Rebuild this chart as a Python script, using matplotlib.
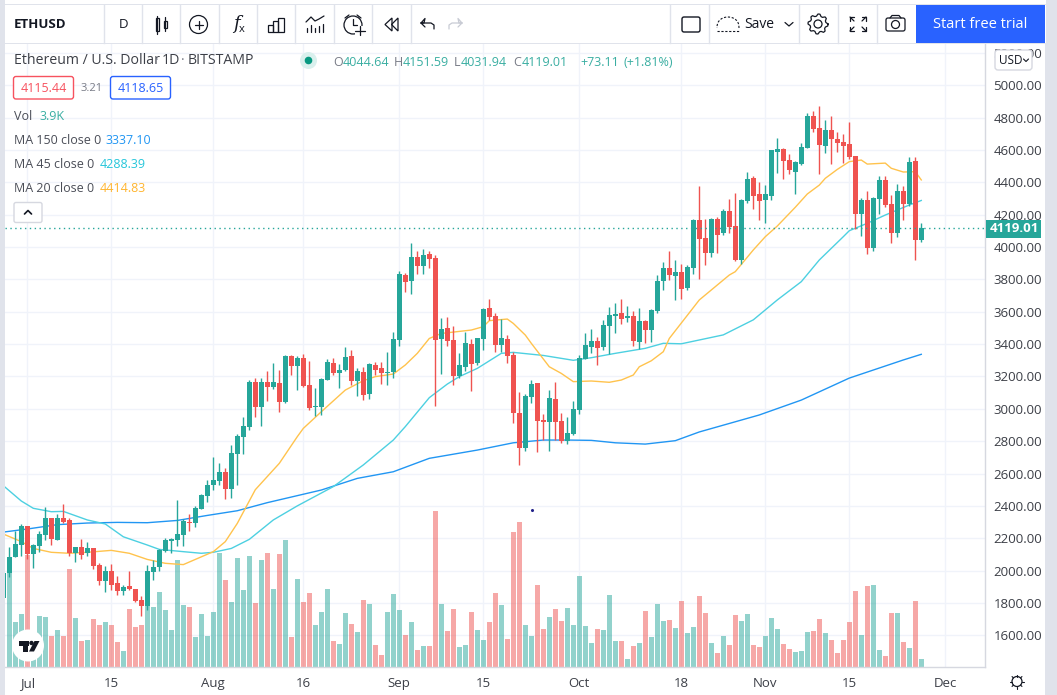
# -*- coding: utf-8 -*-
"""
ETHUSD daily candles, volume and moving averages (TradingView layout)
"""

import matplotlib
matplotlib.use('Agg')
import numpy as np
import matplotlib.pyplot as plt
from matplotlib.patches import Rectangle, Circle, Polygon, FancyBboxPatch

plt.rcParams['font.family'] = ['Open Sans', 'DejaVu Sans']

# day number, 0 is 1 July
first_day = -4

opens = [1828, 1983, 2082, 2160, 2275, 2102, 2152, 2220, 2325, 2189, 2325, 2313, 2109, 2146, 2109, 2140,
         2034, 1936, 1997, 1923, 1874, 1905, 1886, 1818, 1781, 1991, 2022, 2121, 2183, 2189, 2220, 2300,
         2294, 2381, 2461, 2529, 2554, 2609, 2504, 2721, 2826, 2888, 3166, 3011, 3166, 3135, 3160, 3042,
         3326, 3265, 3314, 3147, 3011, 3011, 3178, 3283, 3221, 3240, 3326, 3172, 3228, 3092, 3271, 3252,
         3221, 3228, 3425, 3827, 3790, 3939, 3883, 3957, 3932, 3432, 3500, 3425, 3203, 3259, 3401, 3283,
         3432, 3623, 3574, 3395, 3432, 3333, 2974, 2758, 3073, 3160, 2931, 2918, 3061, 2925, 2801, 2844,
         2993, 3308, 3382, 3419, 3382, 3512, 3574, 3592, 3561, 3574, 3413, 3543, 3487, 3605, 3790, 3870,
         3821, 3846, 3747, 3870, 4167, 4056, 3963, 4173, 4087, 4223, 4130, 3920, 4285, 4427, 4328, 4291,
         4316, 4588, 4606, 4538, 4464, 4513, 4612, 4810, 4736, 4625, 4724, 4668, 4649, 4637, 4563, 4204,
         4291, 3994, 4297, 4414, 4266, 4087, 4346, 4266, 4532, 4044.64]
highs = [1983, 2144, 2247, 2288, 2275, 2164, 2247, 2391, 2325, 2350, 2411, 2325, 2146, 2195, 2177, 2140,
         2047, 2028, 2041, 1966, 1911, 1997, 1886, 1843, 2034, 2065, 2133, 2201, 2201, 2436, 2319, 2350,
         2399, 2473, 2560, 2702, 2665, 2634, 2776, 2844, 2949, 3178, 3190, 3190, 3234, 3283, 3240, 3333,
         3333, 3326, 3339, 3296, 3129, 3190, 3308, 3314, 3277, 3382, 3364, 3252, 3258, 3283, 3289, 3289,
         3351, 3475, 3852, 3840, 4025, 3976, 3988, 3976, 3951, 3561, 3568, 3512, 3345, 3475, 3432, 3438,
         3623, 3679, 3592, 3555, 3456, 3351, 3104, 3092, 3178, 3160, 2968, 3116, 3166, 2974, 2949, 3048,
         3333, 3469, 3493, 3444, 3549, 3629, 3654, 3679, 3635, 3605, 3623, 3549, 3617, 3827, 3908, 3976,
         3920, 3895, 3889, 4173, 4377, 4173, 4180, 4186, 4235, 4297, 4334, 4297, 4464, 4439, 4402, 4384,
         4600, 4674, 4612, 4575, 4532, 4643, 4829, 4841, 4872, 4785, 4810, 4711, 4699, 4773, 4563, 4303,
         4347, 4309, 4439, 4439, 4322, 4390, 4377, 4557, 4557, 4151.59]
lows = [1828, 1962, 2082, 2090, 2069, 2016, 2117, 2189, 2158, 2189, 2296, 2090, 2053, 2071, 2090, 2010,
        1911, 1868, 1880, 1849, 1849, 1880, 1806, 1719, 1756, 1942, 1997, 2115, 2109, 2152, 2152, 2245,
        2267, 2379, 2424, 2498, 2529, 2442, 2451, 2529, 2721, 2869, 2949, 2894, 3048, 3122, 2980, 3036,
        3209, 3116, 3135, 2993, 2955, 2962, 3178, 3209, 3129, 3234, 3147, 3079, 3054, 3061, 3209, 3153,
        3147, 3190, 3388, 3722, 3710, 3833, 3833, 3871, 3017, 3215, 3388, 3147, 3190, 3234, 3110, 3271,
        3364, 3549, 3351, 3351, 3283, 2912, 2653, 2739, 3036, 2733, 2807, 2739, 2807, 2789, 2782, 2838,
        2968, 3308, 3345, 3271, 3364, 3339, 3469, 3524, 3537, 3388, 3370, 3407, 3413, 3592, 3734, 3796,
        3673, 3679, 3734, 3833, 3802, 3889, 3938, 3963, 4074, 4087, 3914, 3895, 4272, 4235, 4167, 4149,
        4291, 4458, 4421, 4452, 4328, 4507, 4612, 4711, 4452, 4581, 4513, 4588, 4519, 4544, 4112, 4068,
        3957, 3976, 4204, 4248, 4025, 4062, 4167, 4254, 3920, 4031.94]
closes = [1983, 2084, 2164, 2275, 2100, 2158, 2226, 2325, 2195, 2325, 2302, 2107, 2146, 2096, 2140, 2028,
          1936, 1997, 1911, 1874, 1899, 1886, 1812, 1781, 1997, 2022, 2127, 2189, 2197, 2226, 2306, 2296,
          2387, 2467, 2529, 2560, 2609, 2504, 2727, 2832, 2894, 3166, 3011, 3166, 3135, 3166, 3042, 3326,
          3265, 3314, 3141, 3005, 3017, 3184, 3289, 3221, 3240, 3320, 3172, 3234, 3085, 3277, 3240, 3221,
          3228, 3432, 3833, 3784, 3939, 3883, 3951, 3926, 3425, 3493, 3419, 3203, 3271, 3407, 3277, 3438,
          3617, 3568, 3395, 3438, 3326, 2974, 2758, 3079, 3153, 2925, 2918, 3067, 2918, 2801, 2850, 2999,
          3314, 3395, 3419, 3376, 3518, 3580, 3586, 3555, 3574, 3419, 3543, 3487, 3611, 3790, 3870, 3827,
          3846, 3741, 3877, 4167, 4050, 3963, 4173, 4074, 4223, 4124, 3920, 4291, 4421, 4316, 4285, 4328,
          4600, 4606, 4532, 4476, 4526, 4618, 4810, 4730, 4631, 4724, 4668, 4643, 4625, 4557, 4204, 4291,
          3994, 4303, 4414, 4260, 4087, 4346, 4266, 4526, 4044.64, 4119.01]
# thousands
volumes = [0, 45.9, 22.1, 26.0, 54.8, 13.3, 25.0, 24.6, 15.3, 18.2, 15.3, 48.0, 24.1, 12.8, 13.3, 23.6,
           20.7, 22.1, 20.7, 12.4, 8.0, 28.5, 19.7, 20.7, 29.9, 29.4, 36.7, 28.0, 18.2, 52.4, 30.4, 29.4,
           14.8, 26.0, 15.3, 27.0, 55.8, 42.6, 31.9, 53.3, 37.7, 54.3, 31.4, 52.3, 55.6, 38.0, 55.1, 62.0,
           14.6, 42.9, 31.7, 36.1, 20.5, 26.8, 38.0, 12.7, 11.2, 26.3, 21.0, 17.1, 32.7, 30.7, 10.7, 5.9,
           26.8, 35.6, 27.8, 15.6, 22.0, 8.3, 10.2, 10.2, 76.1, 30.7, 17.6, 28.3, 9.8, 10.7, 26.8, 18.0,
           13.2, 22.0, 36.1, 30.2, 13.7, 65.9, 70.7, 20.5, 15.1, 40.0, 18.5, 24.4, 28.3, 22.4, 28.8, 20.5,
           44.4, 20.0, 11.7, 18.5, 18.0, 35.1, 12.7, 12.7, 3.9, 10.2, 11.7, 27.3, 14.6, 30.7, 22.4, 22.9,
           19.0, 32.2, 16.6, 19.5, 34.6, 26.3, 11.7, 6.8, 15.1, 10.7, 25.4, 22.4, 25.9, 10.7, 9.8, 15.1,
           23.9, 18.5, 11.2, 8.8, 7.3, 7.8, 17.1, 17.6, 23.4, 16.6, 13.2, 6.8, 13.2, 22.0, 37.1, 15.6,
           39.5, 40.0, 8.3, 5.4, 26.3, 26.3, 12.2, 9.3, 32.2, 3.9]

# moving averages at their bends
ma150_days = [-4, 0, 5, 10, 15, 20, 25, 30, 35, 40, 49, 55, 61, 67, 75, 81, 86, 90, 94, 98, 103, 108, 112, 122,
              129, 137, 146, 149]
ma150 = [2238, 2257, 2284, 2294, 2298, 2296, 2310, 2341, 2370, 2420, 2498, 2570, 2611, 2694, 2745, 2790, 2807,
         2807, 2805, 2790, 2782, 2803, 2857, 2962, 3054, 3190, 3302, 3337]
ma45_days = [-4, -1, 1, 4, 6, 10, 13, 16, 20, 22, 26, 29, 31, 34, 37, 41, 45, 51, 56, 61, 63, 67, 70, 72, 75, 79,
             81, 86, 91, 94, 98, 103, 106, 109, 116, 121, 125, 129, 132, 136, 137, 140, 143, 147, 149]
ma45 = [2525, 2430, 2385, 2364, 2366, 2313, 2288, 2209, 2158, 2131, 2117, 2107, 2113, 2137, 2193, 2313, 2400,
        2519, 2653, 2807, 2890, 3069, 3153, 3199, 3250, 3343, 3349, 3330, 3300, 3316, 3343, 3374, 3405, 3402,
        3457, 3550, 3673, 3786, 3920, 4064, 4101, 4147, 4198, 4260, 4288]
ma20_days = [-4, -1, 1, 4, 7, 10, 14, 17, 20, 23, 26, 28, 31, 33, 35, 38, 42, 45, 46, 49, 53, 56, 58, 61, 63, 65,
             67, 69, 74, 76, 77, 80, 81, 83, 84, 87, 89, 91, 94, 97, 99, 101, 102, 104, 106, 107, 112, 117, 118,
             121, 123, 125, 128, 130, 132, 133, 135, 137, 139, 140, 143, 144, 146, 148, 149]
ma20 = [2226, 2179, 2137, 2113, 2107, 2113, 2125, 2107, 2069, 2045, 2037, 2069, 2117, 2179, 2292, 2500, 2663,
        2828, 2879, 2982, 3116, 3174, 3199, 3215, 3271, 3343, 3435, 3466, 3487, 3508, 3545, 3555, 3528, 3456,
        3405, 3260, 3219, 3168, 3172, 3164, 3178, 3209, 3260, 3297, 3353, 3435, 3673, 3827, 3848, 3982, 4064,
        4130, 4246, 4328, 4383, 4425, 4480, 4528, 4538, 4513, 4519, 4487, 4464, 4466, 4415]

# tick labels
price_ticks = np.arange(1600, 5400, 200)
date_ticks = [0, 14, 31, 46, 62, 76, 92, 109, 123, 137, 153]
date_labels = ['Jul', '15', 'Aug', '16', 'Sep', '15', 'Oct', '18', 'Nov', '15', 'Dec']

GREEN = '#26a69a'
RED = '#ef5350'
GRID = '#f0f3fa'
INK = '#131722'
GRAY = '#5d606b'
STRIP = '#e0e3eb'

W, H = 1057, 695
fig = plt.figure(figsize=(W / 100, H / 100), dpi=100, facecolor='white')

days = first_day + np.arange(len(opens))
opens = np.array(opens)
closes = np.array(closes)
highs = np.array(highs)
lows = np.array(lows)
up = closes >= opens

# ============================================
# Chart panes
# ============================================
pos = [5 / W, (H - 667) / H, 980 / W, 624 / H]
xlim = (-3.72, 159.62)
ylim = (1404, 5261.5)

# grid sits under the volume bars
back = fig.add_axes(pos, zorder=1)
back.set_xlim(xlim)
back.set_ylim(ylim)
back.set_xticks(date_ticks)
back.set_yticks(price_ticks)
back.grid(True, color=GRID, linewidth=1)
back.tick_params(length=0, labelbottom=False, labelleft=False)
for s in back.spines.values():
    s.set_visible(False)

vol = fig.add_axes(pos, zorder=2)
vol.patch.set_visible(False)
vol.set_xlim(xlim)
vol.set_ylim(0, 304.4)
vol.axis('off')
vol.bar(days, volumes, width=0.83, color=[GREEN if u else RED for u in up], alpha=0.5, linewidth=0)

ax = fig.add_axes(pos, zorder=3)
ax.patch.set_visible(False)
ax.set_xlim(xlim)
ax.set_ylim(ylim)

ax.plot(ma150_days, ma150, color='#2196f3', linewidth=1, zorder=2)
ax.plot(ma45_days, ma45, color='#4dd0e1', linewidth=1, zorder=2)
ax.plot(ma20_days, ma20, color='#ffc34d', linewidth=1, zorder=2)

colors = [GREEN if u else RED for u in up]
ax.vlines(days, lows, highs, colors=colors, linewidth=1, zorder=3)
ax.bar(days, np.abs(closes - opens), bottom=np.minimum(opens, closes), width=0.83, color=colors,
       linewidth=0, zorder=3)

# last price line
ax.axhline(closes[-1], color=GREEN, linestyle=(0, (1, 2.5)), linewidth=1, zorder=4)

ax.yaxis.tick_right()
ax.set_yticks(price_ticks)
ax.set_yticklabels(['%.2f' % p for p in price_ticks])
ax.set_xticks(date_ticks)
ax.set_xticklabels(date_labels)
ax.tick_params(length=0, labelsize=9.5, labelcolor='#3c3f47')
ax.tick_params(axis='y', pad=6)
ax.tick_params(axis='x', pad=7)
for name, s in ax.spines.items():
    s.set_visible(name in ('right', 'bottom'))
    s.set_color('#d6d8e0')
    s.set_linewidth(1)

# ============================================
# Interface around the chart, in pixels
# ============================================
ui = fig.add_axes([0, 0, 1, 1], zorder=10)
ui.patch.set_visible(False)
ui.set_xlim(0, W)
ui.set_ylim(H, 0)
ui.axis('off')

# frame
ui.add_patch(Rectangle((0, 0), 4.5, H, color=STRIP, linewidth=0))
ui.add_patch(Rectangle((1045, 0), 12, H, color=STRIP, linewidth=0))
ui.add_patch(Rectangle((4.5, 0), 1041, 4.5, color='white', linewidth=0))
ui.add_patch(Rectangle((4.5, 4), 1041, 1.2, color=STRIP, linewidth=0))
ui.add_patch(Rectangle((4.5, 5), 1041, 38, color='white', linewidth=0))
ui.add_patch(Rectangle((4.5, 43), 1041, 1.2, color=STRIP, linewidth=0))
for x in [104, 141.5, 180, 218.5, 257, 295, 334, 372, 411, 670, 709, 799, 838, 877]:
    ui.plot([x, x], [5, 43], color=STRIP, linewidth=1)
ui.add_patch(Rectangle((915.5, 5), 129.5, 38, color='#2962ff', linewidth=0))
ui.text(980, 24.5, 'Start free trial', color='white', fontsize=10.5, ha='center', va='center')


def label(x, y, s, color=INK, size=9.5, **kw):
    ui.text(x, y, s, color=color, fontsize=size, va='center', **kw)


def stroke(xs, ys, color=INK, lw=0.9, **kw):
    ui.plot(xs, ys, color=color, linewidth=lw, solid_capstyle='round', **kw)


label(14, 24, 'ETHUSD', size=9.5, weight='bold')
label(123, 24, 'D', size=9.5, ha='center')

# candle icon
ui.add_patch(Rectangle((155.5, 18), 3.5, 13, fill=False, edgecolor=INK, linewidth=0.9))
ui.add_patch(Rectangle((163.5, 21), 3, 7, fill=False, edgecolor=INK, linewidth=0.9))
stroke([157.2, 157.2], [16, 34])
stroke([165, 165], [17, 31])
# add symbol
ui.add_patch(Circle((198.5, 24.5), 9, fill=False, edgecolor=INK, linewidth=0.9))
stroke([194.5, 202.5], [24.5, 24.5])
stroke([198.5, 198.5], [20.5, 28.5])
# indicators
ui.text(236, 24, 'f', color=INK, fontsize=13, style='italic', ha='center', va='center', family='DejaVu Serif')
ui.text(242, 29, 'x', color=INK, fontsize=8, ha='center', va='center')
# bars icon
ui.add_patch(Rectangle((268, 25), 4.5, 7, fill=False, edgecolor=INK, linewidth=0.9))
ui.add_patch(Rectangle((272.5, 21), 5, 11, fill=False, edgecolor=INK, linewidth=0.9))
ui.add_patch(Rectangle((277.5, 18), 6, 14, fill=False, edgecolor=INK, linewidth=0.9))
# templates icon
stroke([306, 311, 315, 319, 324], [22, 17, 21, 19, 16])
for x, top in zip([307, 311, 315, 319, 323], [28, 25, 28, 26, 24]):
    stroke([x, x], [top, 32])
# alarm
ui.add_patch(Circle((353, 25), 9, fill=False, edgecolor=INK, linewidth=0.9))
stroke([353, 353, 357], [19, 25, 25])
stroke([345, 349], [18, 15])
stroke([357, 361], [15, 18])
ui.add_patch(Rectangle((355, 26), 9, 9, color='white', linewidth=0))
stroke([355, 365], [30.5, 30.5])
stroke([360, 360], [26, 35])
# rewind
ui.add_patch(Polygon([[392, 18], [385, 24.5], [392, 31]], closed=True, fill=False, edgecolor=INK, linewidth=0.9))
ui.add_patch(Polygon([[398, 18], [391.5, 24.5], [398, 31]], closed=True, fill=False, edgecolor=INK, linewidth=0.9))
# undo and redo
stroke([421, 425, 424, 421, 425], [23, 18.5, 23, 23, 27])
stroke([421, 431, 434, 434], [23, 23, 25, 29])
stroke([462, 458, 459, 462, 458], [23, 18.5, 23, 23, 27], color='#c8cbd4')
stroke([462, 452, 449, 449], [23, 23, 25, 29], color='#c8cbd4')
# square
ui.add_patch(FancyBboxPatch((682, 17), 18, 15, boxstyle='round,pad=0,rounding_size=2', fill=False, edgecolor=INK,
                            linewidth=1))
# cloud
t = np.linspace(0, np.pi, 20)
ui.plot(728 + 11 * np.cos(t), 28 - 11 * np.sin(t) ** 0.8, color=INK, linewidth=0.8, linestyle=(0, (2, 1.5)))
ui.plot([717, 739], [30.5, 30.5], color=INK, linewidth=0.8, linestyle=(0, (2, 1.5)))
label(744, 24.5, 'Save', size=10)
stroke([785, 789, 793], [22.5, 26, 22.5])
# gear
ui.add_patch(Circle((818, 24), 4, fill=False, edgecolor=INK, linewidth=0.9))
ang = np.linspace(0, 2 * np.pi, 33)
r = np.where(np.arange(33) % 4 < 2, 10, 8)
ui.plot(818 + r * np.cos(ang), 24 + r * np.sin(ang), color=INK, linewidth=0.9)
# fullscreen
for sx, sy in [(850, 17), (866, 17), (850, 31), (866, 31)]:
    dx = 4 if sx < 857 else -4
    dy = 4 if sy < 24 else -4
    stroke([sx + dx, sx, sx], [sy, sy, sy + dy])
    stroke([sx, sx + dx], [sy, sy + dy])
# camera
ui.add_patch(FancyBboxPatch((886, 18), 19, 13, boxstyle='round,pad=0,rounding_size=2', fill=False, edgecolor=INK,
                            linewidth=0.9))
ui.add_patch(Circle((895.5, 24.5), 4, fill=False, edgecolor=INK, linewidth=0.9))
stroke([890, 892, 899, 901], [18, 15.5, 15.5, 18])

# legend
label(14, 61, 'Ethereum / U.S. Dollar', size=10.2, color='#3c3f47')
label(155, 61, '·', size=10.2, color='#787b86')
label(162, 61, '1D', size=10.2, color='#3c3f47')
label(181, 61, '·', size=10.2, color='#787b86')
label(188, 61, 'BITSTAMP', size=10.2, color='#3c3f47')
ui.add_patch(Circle((308.5, 60.5), 8.5, color='#d9f0ed', linewidth=0))
ui.add_patch(Circle((308.5, 60.5), 3.8, color='#089981', linewidth=0))

ohlc = [(333, 'O', '4044.64', 342.5), (393.5, 'H', '4151.59', 403), (454, 'L', '4031.94', 461),
        (513, 'C', '4119.01', 522)]
for x0, letter, value, x1 in ohlc:
    label(x0, 62, letter, color='#787b86', size=9)
    label(x1, 62, value, color='#3aaea2', size=9)
label(580, 62, '+73.11', color='#3aaea2', size=9)
label(623, 62, '(+1.81%)', color='#3aaea2', size=9)

ui.add_patch(FancyBboxPatch((13.5, 76.5), 60, 22.5, boxstyle='round,pad=0,rounding_size=2.5', facecolor='white',
                            edgecolor='#f7525f', linewidth=1))
label(43.5, 88.5, '4115.44', color='#f7525f', size=9, ha='center')
label(92, 88.5, '3.21', color='#787b86', size=8, ha='center')
ui.add_patch(FancyBboxPatch((110.5, 76.5), 60, 22.5, boxstyle='round,pad=0,rounding_size=2.5', facecolor='white',
                            edgecolor='#2962ff', linewidth=1))
label(140.5, 88.5, '4118.65', color='#2962ff', size=9, ha='center')

label(14, 116.5, 'Vol', color='#4a4d57', size=9)
label(39, 116.5, '3.9K', color='#3aaea2', size=9)
label(14, 140.5, 'MA 150 close 0', color='#4a4d57', size=9)
label(106, 140.5, '3337.10', color='#2196f3', size=9)
label(14, 164.5, 'MA 45 close 0', color='#4a4d57', size=9)
label(99.5, 164.5, '4288.39', color='#26c6da', size=9)
label(14, 188.5, 'MA 20 close 0', color='#4a4d57', size=9)
label(99.5, 188.5, '4414.83', color='#ffb52e', size=9)
ui.add_patch(FancyBboxPatch((14, 202.5), 28, 20, boxstyle='round,pad=0,rounding_size=2', facecolor='white',
                            edgecolor='#d6d8e0', linewidth=1))
stroke([24.5, 28, 31.5], [214, 210.5, 214], lw=1.2)

# TradingView badge
ui.add_patch(Circle((28, 645.5), 16, color='white', linewidth=0))
ui.add_patch(Rectangle((18.5, 641), 10, 4.5, color=INK, linewidth=0))
ui.add_patch(Rectangle((23, 641), 5, 10.5, color=INK, linewidth=0))
ui.add_patch(Circle((31.5, 643), 2.2, color=INK, linewidth=0))
ui.add_patch(Polygon([[34.5, 641], [39.5, 641], [34, 651.5], [29, 651.5]], closed=True, color=INK, linewidth=0))

# last price tag and currency switch
ui.add_patch(Rectangle((986, 220), 55, 18, color=GREEN, linewidth=0))
label(990, 229, '4119.01', color='white', size=9.5, weight='bold')
ui.add_patch(FancyBboxPatch((995, 50), 37, 20, boxstyle='round,pad=0,rounding_size=3', facecolor='white',
                            edgecolor='#d6d8e0', linewidth=1))
label(999, 60, 'USD', size=8.5)
stroke([1023.5, 1026, 1028.5], [59, 61.5, 59], lw=0.8)

# clock settings icon
ui.add_patch(Circle((1017, 681.5), 5, fill=False, edgecolor=INK, linewidth=0.9))
for a in np.arange(8) * np.pi / 4:
    stroke([1017 + 5 * np.cos(a), 1017 + 7 * np.cos(a)], [681.5 + 5 * np.sin(a), 681.5 + 7 * np.sin(a)], lw=0.8)

# stray pixel on the screenshot
ui.plot([531.5], [509.5], marker='o', markersize=1.2, color='#22228a', linewidth=0)

plt.savefig('out.png', dpi=100, facecolor='white')
